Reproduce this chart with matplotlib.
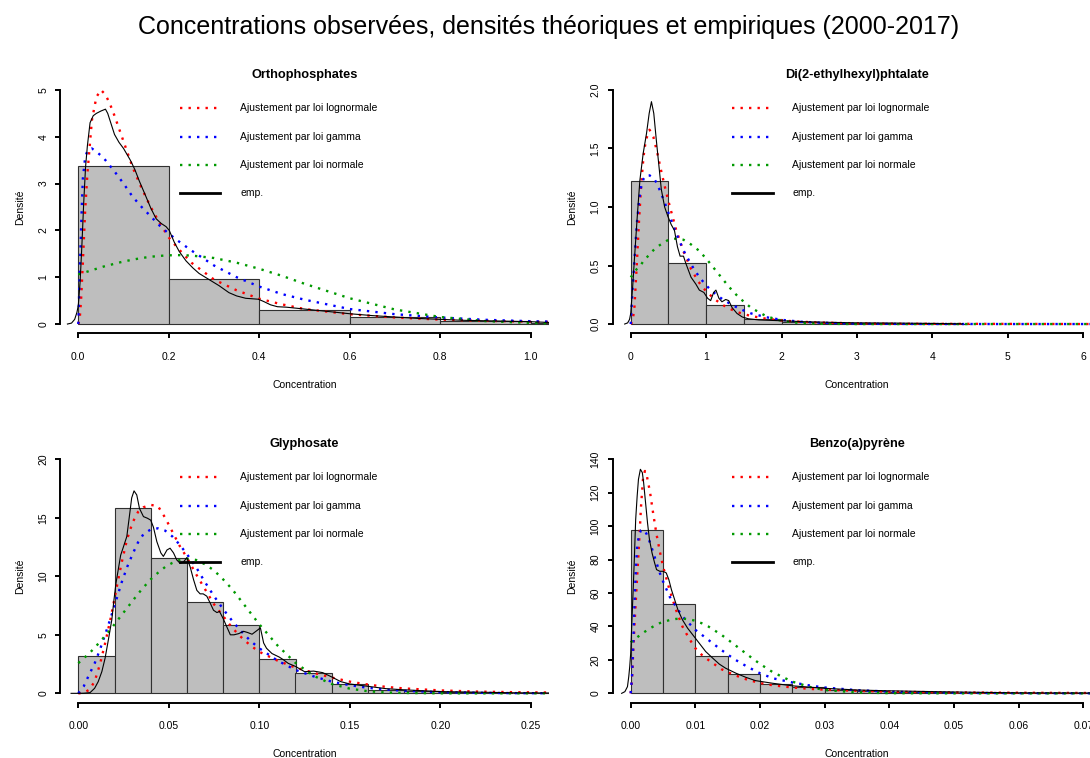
import matplotlib
matplotlib.use("Agg")
import matplotlib.pyplot as plt
import numpy as np

plt.rcParams['font.family'] = ['Liberation Sans', 'DejaVu Sans']

# ---- Orthophosphates ----
ortho_breaks = [0, 0.2, 0.4, 0.6, 0.8, 1.0, 1.2]
ortho_hist = [3.38, 0.97, 0.29, 0.16, 0.07, 0.03]
ortho_fit_x = [0, 0.003, 0.006, 0.01, 0.015, 0.02, 0.03, 0.04, 0.05, 0.06, 0.07, 0.08, 0.10, 0.12,
               0.14, 0.16, 0.18, 0.20, 0.22, 0.25, 0.30, 0.35, 0.40, 0.45, 0.50, 0.60, 0.70, 0.80,
               0.90, 1.00, 1.05]
ortho_lnorm = [0, 0.1, 0.5, 1.3, 2.4, 3.2, 4.35, 4.85, 5.0, 4.9, 4.7, 4.45, 3.9, 3.35,
               2.9, 2.5, 2.15, 1.85, 1.62, 1.31, 0.95, 0.72, 0.54, 0.42, 0.32, 0.21, 0.14, 0.095,
               0.07, 0.05, 0.043]
ortho_gamma = [0, 1.0, 2.0, 3.1, 3.55, 3.7, 3.75, 3.68, 3.6, 3.5, 3.38, 3.26, 3.0, 2.72,
               2.5, 2.3, 2.1, 1.93, 1.78, 1.57, 1.25, 1.0, 0.8, 0.64, 0.52, 0.32, 0.21, 0.14,
               0.09, 0.06, 0.05]
ortho_norm = [1.06, 1.07, 1.08, 1.09, 1.105, 1.12, 1.15, 1.18, 1.21, 1.24, 1.26, 1.29, 1.335, 1.375,
              1.41, 1.437, 1.456, 1.468, 1.472, 1.463, 1.41, 1.31, 1.18, 1.03, 0.86, 0.55, 0.31, 0.15,
              0.063, 0.024, 0.014]
ortho_emp_x = [-0.024, -0.015, -0.008, -0.003, 0.0, 0.004, 0.008, 0.012, 0.016, 0.02, 0.026, 0.033,
               0.04, 0.05, 0.06, 0.065, 0.07, 0.08, 0.09, 0.10, 0.115, 0.125, 0.135, 0.147, 0.16,
               0.172, 0.183, 0.194, 0.201, 0.212, 0.223, 0.238, 0.253, 0.267, 0.289, 0.311, 0.333,
               0.35, 0.37, 0.398, 0.41, 0.425, 0.44, 0.46, 0.5, 0.55, 0.6, 0.65, 0.7, 0.75, 0.8,
               0.85, 0.9, 0.95, 1.0, 1.05]
ortho_emp_y = [0, 0.02, 0.1, 0.25, 0.4, 0.9, 1.7, 2.6, 3.35, 3.8, 4.3, 4.45,
               4.5, 4.55, 4.59, 4.5, 4.35, 4.05, 3.88, 3.75, 3.5, 3.3, 3.05, 2.78, 2.48,
               2.25, 2.15, 2.08, 2.0, 1.75, 1.55, 1.35, 1.2, 1.08, 0.95, 0.82, 0.67,
               0.6, 0.55, 0.53, 0.48, 0.41, 0.37, 0.36, 0.32, 0.27, 0.22, 0.18, 0.15, 0.12, 0.1,
               0.08, 0.07, 0.06, 0.05, 0.03]

# ---- Di(2-ethylhexyl)phtalate ----
dehp_breaks = [0, 0.5, 1.0, 1.5, 2.0, 2.5, 3.0, 3.5, 4.0, 4.5]
dehp_hist = [1.225, 0.524, 0.16, 0.043, 0.02, 0.008, 0.006, 0.004, 0.004]
dehp_fit_x = [0, 0.025, 0.05, 0.08, 0.11, 0.14, 0.17, 0.2, 0.25, 0.3, 0.35, 0.4, 0.45, 0.5, 0.6,
              0.7, 0.8, 0.9, 1.0, 1.1, 1.2, 1.3, 1.4, 1.5, 1.6, 1.8, 2.0, 2.25, 2.5, 3.0, 3.5,
              4.0, 5.0, 6.0, 6.3]
dehp_lnorm = [0, 0.02, 0.15, 0.5, 0.88, 1.2, 1.43, 1.57, 1.66, 1.6, 1.47, 1.32, 1.18, 1.05, 0.81,
              0.62, 0.47, 0.36, 0.28, 0.22, 0.17, 0.135, 0.105, 0.085, 0.068, 0.045, 0.03, 0.02,
              0.013, 0.006, 0.003, 0.002, 0.001, 0.0, 0.0]
dehp_gamma = [0, 0.3, 0.55, 0.85, 1.05, 1.18, 1.24, 1.27, 1.27, 1.25, 1.2, 1.12, 1.04, 0.95, 0.78,
              0.63, 0.51, 0.41, 0.33, 0.27, 0.22, 0.18, 0.145, 0.115, 0.09, 0.058, 0.036, 0.02,
              0.012, 0.004, 0.0015, 0.0005, 0, 0, 0]
dehp_norm = [0.40, 0.42, 0.44, 0.47, 0.49, 0.51, 0.54, 0.56, 0.595, 0.63, 0.66, 0.68, 0.70, 0.72,
             0.73, 0.72, 0.68, 0.63, 0.56, 0.48, 0.40, 0.32, 0.25, 0.19, 0.137, 0.066, 0.0275,
             0.008, 0.002, 0, 0, 0, 0, 0, 0]
dehp_emp_x = [-0.08, -0.04, -0.015, 0, 0.026, 0.052, 0.087, 0.122, 0.166, 0.21, 0.245, 0.275,
              0.306, 0.34, 0.376, 0.406, 0.45, 0.493, 0.537, 0.58, 0.62, 0.655, 0.7, 0.73, 0.8,
              0.865, 0.91, 0.97, 1.02, 1.06, 1.1, 1.13, 1.17, 1.21, 1.26, 1.3, 1.345, 1.41, 1.48,
              1.56, 1.7, 2.0, 2.3, 2.6, 3.0, 3.5, 4.0, 4.4]
dehp_emp_y = [0, 0.01, 0.04, 0.09, 0.32, 0.58, 0.92, 1.23, 1.46, 1.63, 1.8, 1.9,
              1.8, 1.57, 1.34, 1.15, 1.0, 0.92, 0.85, 0.8, 0.66, 0.58, 0.58, 0.52, 0.4,
              0.34, 0.29, 0.27, 0.22, 0.2, 0.27, 0.29, 0.22, 0.19, 0.21, 0.2, 0.14, 0.09, 0.06,
              0.045, 0.035, 0.028, 0.02, 0.015, 0.01, 0.008, 0.005, 0.002]

# ---- Glyphosate ----
glypho_breaks = [0, 0.02, 0.04, 0.06, 0.08, 0.10, 0.12, 0.14, 0.16, 0.18, 0.20, 0.22, 0.24, 0.26]
glypho_hist = [3.19, 15.87, 11.6, 7.78, 5.8, 2.9, 1.77, 0.8, 0.28, 0.17, 0.09, 0.05, 0.03]
glypho_fit_x = [0, 0.003, 0.006, 0.009, 0.012, 0.015, 0.018, 0.021, 0.024, 0.027, 0.03, 0.033,
                0.036, 0.04, 0.044, 0.048, 0.052, 0.056, 0.06, 0.065, 0.07, 0.075, 0.08, 0.085,
                0.09, 0.095, 0.1, 0.11, 0.12, 0.13, 0.14, 0.15, 0.16, 0.17, 0.18, 0.2, 0.22,
                0.24, 0.26]
glypho_lnorm = [0, 0.05, 0.3, 1.0, 2.5, 4.4, 6.5, 8.9, 11.2, 13.2, 14.6, 15.5,
                15.9, 16.1, 16.0, 15.0, 13.8, 12.6, 11.6, 10.2, 8.9, 7.6, 6.6, 5.6,
                4.8, 4.1, 3.55, 2.8, 2.2, 1.75, 1.35, 1.0, 0.75, 0.55, 0.42, 0.25, 0.15,
                0.1, 0.07]
glypho_gamma = [0, 0.6, 1.6, 2.55, 3.75, 5.1, 6.5, 8.0, 9.5, 10.8, 11.9, 12.9,
                13.6, 14.0, 14.1, 13.9, 13.4, 12.7, 11.9, 10.8, 9.5, 8.3, 7.2, 6.2,
                5.3, 4.5, 3.85, 2.8, 2.0, 1.45, 1.0, 0.7, 0.47, 0.32, 0.22, 0.1, 0.05,
                0.02, 0.01]
glypho_norm = [2.58, 3.0, 3.4, 3.9, 4.4, 4.95, 5.5, 6.1, 6.7, 7.3, 7.9, 8.5,
               9.05, 9.74, 10.3, 10.8, 11.15, 11.4, 11.5, 11.4, 11.03, 10.5, 9.74, 8.9,
               7.9, 6.9, 5.9, 4.1, 2.6, 1.5, 0.8, 0.4, 0.18, 0.07, 0.03, 0.003, 0,
               0, 0]
glypho_emp_x = [-0.004, 0.0, 0.003, 0.0065, 0.009, 0.011, 0.013, 0.0148, 0.0166, 0.0185, 0.0197,
                0.0208, 0.022, 0.0234, 0.0249, 0.0268, 0.0282, 0.0295, 0.0308, 0.0323, 0.0338,
                0.036, 0.0382, 0.04, 0.0415, 0.0434, 0.0456, 0.047, 0.049, 0.0507, 0.0526,
                0.0544, 0.0563, 0.058, 0.06, 0.0618, 0.0637, 0.0655, 0.0673, 0.069, 0.071,
                0.0729, 0.0747, 0.0766, 0.078, 0.08, 0.082, 0.084, 0.086, 0.0886, 0.0913,
                0.0935, 0.096, 0.099, 0.1006, 0.1024, 0.104, 0.107, 0.111, 0.1135, 0.116, 0.12,
                0.125, 0.13, 0.135, 0.14, 0.145, 0.15, 0.16, 0.17, 0.18, 0.2, 0.22, 0.24, 0.26]
glypho_emp_y = [0, 0, 0.01, 0.06, 0.43, 1.0, 1.85, 3.0, 4.56, 6.27, 7.98,
                9.4, 10.5, 11.8, 12.5, 13.4, 15.1, 16.7, 17.3, 16.95, 15.8,
                15.1, 14.96, 14.8, 14.2, 12.96, 12.0, 11.7, 12.25, 12.4, 12.0,
                11.4, 11.1, 11.2, 11.6, 10.8, 9.7, 8.8, 8.5, 8.5, 8.3,
                7.7, 7.1, 6.9, 7.0, 6.4, 5.7, 5.0, 5.0, 5.1, 5.3,
                5.2, 5.05, 5.4, 5.6, 4.3, 3.85, 3.4, 3.1, 2.85, 2.56, 2.3,
                1.85, 1.9, 1.77, 1.4, 1.0, 0.8, 0.6, 0.4, 0.3, 0.15, 0.1, 0.05, 0.03]

# ---- Benzo(a)pyrène ----
bap_breaks = [0, 0.005, 0.01, 0.015, 0.02, 0.025, 0.03, 0.035, 0.04, 0.045, 0.05, 0.055, 0.06,
              0.065, 0.07, 0.075]
bap_hist = [97.7, 53.2, 22.3, 11.4, 5.6, 4.0, 2.0, 1.4, 1.0, 0.8, 0.2, 0.1, 0.1, 0.1, 0.05]
bap_fit_x = [0, 0.0002, 0.0004, 0.0006, 0.0008, 0.001, 0.0013, 0.0016, 0.0019, 0.0022, 0.0025,
             0.003, 0.0035, 0.004, 0.0045, 0.005, 0.006, 0.007, 0.008, 0.009, 0.01, 0.011, 0.012,
             0.014, 0.016, 0.018, 0.02, 0.022, 0.025, 0.028, 0.03, 0.035, 0.04, 0.05, 0.06,
             0.07, 0.073]
bap_lnorm = [0, 8, 26, 42, 56, 70, 90, 112, 128, 133, 130,
             120, 107, 95, 85, 76, 62, 50, 40, 33, 27, 23, 20,
             14.5, 11, 8.2, 6.2, 4.8, 3.5, 2.6, 2.2, 1.5, 1.0, 0.55, 0.35,
             0.22, 0.2]
bap_gamma = [0, 10, 30, 55, 75, 88, 95, 97.5, 98, 97, 95,
             90, 84, 78, 72, 67, 58, 52, 46, 42, 38, 35, 32,
             26, 20.5, 16, 12, 9, 6.5, 4.5, 3.5, 1.9, 1.0, 0.3, 0.1,
             0.03, 0.02]
bap_norm = [30.5, 31.1, 31.7, 32.3, 32.9, 33.5, 34.4, 35.3, 36.1, 36.9, 37.6,
            38.9, 40.0, 41.1, 42.0, 42.6, 43.8, 44.5, 44.7, 44.3, 43.4, 41.9, 40.0,
            35.1, 29.3, 23.3, 17.6, 12.6, 7.0, 3.5, 2.0, 0.5, 0.1, 0, 0,
            0, 0]
bap_emp_x = [-0.0014, -0.0009, -0.0005, -0.0003, -0.00015, 0.0, 0.00015, 0.00036, 0.00056, 0.00077,
             0.001, 0.0012, 0.0015, 0.0018, 0.002, 0.0023, 0.0026, 0.0029, 0.0033, 0.0037, 0.004,
             0.0045, 0.005, 0.0055, 0.0059, 0.0063, 0.0068, 0.0073, 0.008, 0.0088, 0.0096, 0.0106,
             0.0116, 0.0127, 0.0137, 0.0147, 0.0163, 0.0178, 0.0193, 0.022, 0.025, 0.03, 0.035,
             0.04, 0.05, 0.06, 0.07, 0.073]
bap_emp_y = [0, 1, 4, 10, 16, 24, 40, 60, 80, 104,
             118, 128, 134, 132, 126, 114, 102, 92, 84, 78, 74,
             73, 73, 72, 68, 62, 56, 50, 44, 39, 35, 30,
             25, 21, 17.5, 15, 12, 9.6, 7.6, 6, 4.5, 3, 2,
             1.5, 0.8, 0.3, 0.2, 0.2]

# axis ticks and labels
ortho_xticks = [0, 0.2, 0.4, 0.6, 0.8, 1.0]
ortho_xlabels = ['0.0', '0.2', '0.4', '0.6', '0.8', '1.0']
ortho_yticks = [0, 1, 2, 3, 4, 5]
ortho_ylabels = ['0', '1', '2', '3', '4', '5']
dehp_xticks = [0, 1, 2, 3, 4, 5, 6]
dehp_xlabels = ['0', '1', '2', '3', '4', '5', '6']
dehp_yticks = [0, 0.5, 1.0, 1.5, 2.0]
dehp_ylabels = ['0.0', '0.5', '1.0', '1.5', '2.0']
glypho_xticks = [0, 0.05, 0.10, 0.15, 0.20, 0.25]
glypho_xlabels = ['0.00', '0.05', '0.10', '0.15', '0.20', '0.25']
glypho_yticks = [0, 5, 10, 15, 20]
glypho_ylabels = ['0', '5', '10', '15', '20']
bap_xticks = [0, 0.01, 0.02, 0.03, 0.04, 0.05, 0.06, 0.07]
bap_xlabels = ['0.00', '0.01', '0.02', '0.03', '0.04', '0.05', '0.06', '0.07']
bap_yticks = [0, 20, 40, 60, 80, 100, 120, 140]
bap_ylabels = ['0', '20', '40', '60', '80', '100', '120', '140']

legend_labels = ['Ajustement par loi lognormale', 'Ajustement par loi gamma',
                 'Ajustement par loi normale', 'emp.']

DOT = (0, (1, 2.6))
DOT_LW = 1.7
FS = 7.5


def draw_panel(ax, title, breaks, dens, fit_x, lnorm, gamma, norm, emp_x, emp_y,
               xticks, xlabels, yticks, ylabels):
    breaks = np.asarray(breaks)
    ax.bar(breaks[:-1], dens, width=np.diff(breaks), align='edge',
           color='#bebebe', edgecolor='#303030', linewidth=0.8, zorder=1)
    ax.plot(fit_x, lnorm, color='red', lw=DOT_LW, ls=DOT, zorder=2)
    ax.plot(fit_x, gamma, color='blue', lw=DOT_LW, ls=DOT, zorder=2)
    ax.plot(fit_x, norm, color='#009900', lw=DOT_LW, ls=DOT, zorder=2)
    ax.plot(emp_x, emp_y, color='black', lw=0.8, zorder=3)

    xmax, ymax = xticks[-1], yticks[-1]
    ax.set_xlim(-0.04 * xmax, 1.04 * xmax)
    ax.set_ylim(-0.04 * ymax, 1.04 * ymax)

    for side in ['top', 'right']:
        ax.spines[side].set_visible(False)
    ax.spines['left'].set_bounds(0, ymax)
    ax.spines['bottom'].set_bounds(0, xmax)
    for side in ['left', 'bottom']:
        ax.spines[side].set_linewidth(1.4)

    ax.set_xticks(xticks)
    ax.set_xticklabels(xlabels)
    ax.set_yticks(yticks)
    ax.set_yticklabels(ylabels, rotation=90, va='center')
    ax.tick_params(axis='both', direction='out', length=3.6, width=1.4, labelsize=FS)
    ax.tick_params(axis='x', pad=9.5)
    ax.tick_params(axis='y', pad=5)

    ax.set_title(title, fontsize=9.2, fontweight='bold', pad=0)
    ax.text(0.5, -0.204, 'Concentration', transform=ax.transAxes,
            ha='center', va='center', fontsize=FS)
    ax.text(-0.083, 0.5, 'Densité', transform=ax.transAxes, rotation=90,
            ha='center', va='center', fontsize=FS)

    # legend drawn by hand, no frame
    rows = [0.892, 0.778, 0.667, 0.557]
    styles = [('red', DOT, DOT_LW), ('blue', DOT, DOT_LW), ('#009900', DOT, DOT_LW),
              ('black', '-', 2.0)]
    for yy, (col, ls, lw), lab in zip(rows, styles, legend_labels):
        ax.plot([0.245, 0.328], [yy, yy], transform=ax.transAxes, color=col, ls=ls, lw=lw,
                clip_on=False, zorder=4)
        ax.text(0.368, yy, lab, transform=ax.transAxes, ha='left', va='center', fontsize=FS)


fig = plt.figure(figsize=(10.9, 7.58), dpi=100)
W, H = 1090.0, 758.0
aw, ah = 488.7 / W, 252.8 / H
lefts = [60.2 / W, 612.6 / W]
bottoms = [(H - 333.4) / H, (H - 702.7) / H]

ax1 = fig.add_axes([lefts[0], bottoms[0], aw, ah])
ax2 = fig.add_axes([lefts[1], bottoms[0], aw, ah])
ax3 = fig.add_axes([lefts[0], bottoms[1], aw, ah])
ax4 = fig.add_axes([lefts[1], bottoms[1], aw, ah])

draw_panel(ax1, 'Orthophosphates', ortho_breaks, ortho_hist, ortho_fit_x, ortho_lnorm,
           ortho_gamma, ortho_norm, ortho_emp_x, ortho_emp_y,
           ortho_xticks, ortho_xlabels, ortho_yticks, ortho_ylabels)
draw_panel(ax2, 'Di(2-ethylhexyl)phtalate', dehp_breaks, dehp_hist, dehp_fit_x, dehp_lnorm,
           dehp_gamma, dehp_norm, dehp_emp_x, dehp_emp_y,
           dehp_xticks, dehp_xlabels, dehp_yticks, dehp_ylabels)
draw_panel(ax3, 'Glyphosate', glypho_breaks, glypho_hist, glypho_fit_x, glypho_lnorm,
           glypho_gamma, glypho_norm, glypho_emp_x, glypho_emp_y,
           glypho_xticks, glypho_xlabels, glypho_yticks, glypho_ylabels)
draw_panel(ax4, 'Benzo(a)pyrène', bap_breaks, bap_hist, bap_fit_x, bap_lnorm,
           bap_gamma, bap_norm, bap_emp_x, bap_emp_y,
           bap_xticks, bap_xlabels, bap_yticks, bap_ylabels)

fig.text(549 / W, 1 - 27 / H,
         'Concentrations observées, densités théoriques et empiriques (2000-2017)',
         ha='center', va='center', fontsize=18)

fig.savefig('out.png', dpi=100)
